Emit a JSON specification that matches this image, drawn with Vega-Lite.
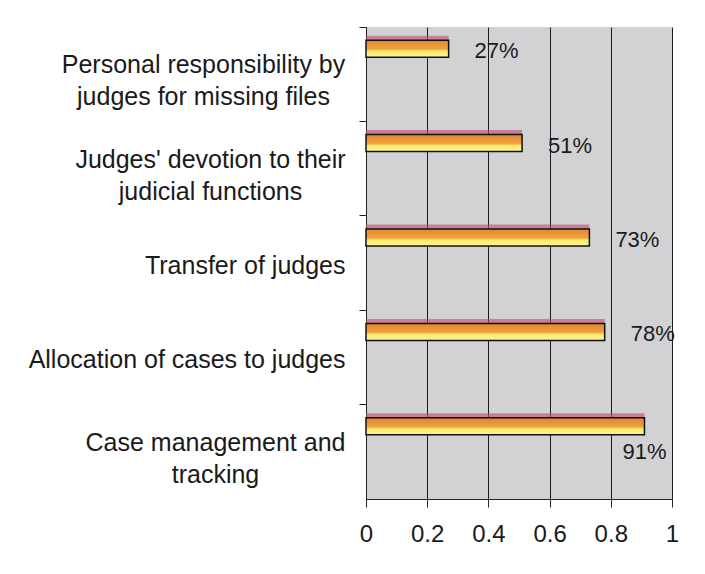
{
  "$schema": "https://vega.github.io/schema/vega-lite/v6.json",
  "width": 306,
  "height": 472,
  "autosize": "none",
  "padding": {"left": 366, "top": 27, "right": 33, "bottom": 75},
  "background": "white",
  "config": {
    "view": {"fill": "#D2D2D4", "stroke": null},
    "font": "Liberation Sans"
  },
  "data": {
    "values": [
      {"item": "Personal responsibility by\njudges for missing files", "value": 0.27},
      {"item": "Judges' devotion to their\njudicial functions", "value": 0.51},
      {"item": "Transfer of judges", "value": 0.73},
      {"item": "Allocation of cases to judges", "value": 0.78},
      {"item": "Case management and\ntracking", "value": 0.91}
    ]
  },
  "encoding": {
    "y": {
      "field": "item",
      "type": "nominal",
      "sort": null,
      "scale": {"paddingInner": 0, "paddingOuter": 0},
      "axis": {
        "title": null,
        "labelExpr": "split(datum.value, '\\n')",
        "labelFontSize": 25,
        "labelLineHeight": 32,
        "labelColor": "#1a1a1a",
        "labelAlign": {"expr": "indexof(datum.value, '\\n') >= 0 ? 'center' : 'right'"},
        "labelPadding": {"expr": "indexof(datum.value, 'Personal') == 0 ? 156 : indexof(datum.value, 'Judges') == 0 ? 149 : indexof(datum.value, 'Case') == 0 ? 144 : 14"},
        "labelOffset": {"expr": "indexof(datum.value, '\\n') >= 0 ? -9 : 3"},
        "labelLimit": 0,
        "bandPosition": 0,
        "tickSize": 7,
        "tickColor": "#222",
        "domainColor": "#222",
        "grid": false
      }
    },
    "x": {
      "field": "value",
      "type": "quantitative",
      "scale": {"domain": [0, 1], "nice": false},
      "axis": {
        "title": null,
        "values": [0, 0.2, 0.4, 0.6, 0.8, 1],
        "format": "~g",
        "grid": true,
        "gridColor": "#1a1a1a",
        "gridOpacity": 1,
        "gridWidth": 1,
        "tickSize": 8,
        "tickColor": "#222",
        "domainColor": "#222",
        "labelFontSize": 24,
        "labelColor": "#1a1a1a",
        "labelPadding": 15,
        "labelFlush": false
      }
    }
  },
  "layer": [
    {
      "mark": {"type": "bar", "height": 5, "yOffset": -36, "color": "#C04A6A", "opacity": 0.6}
    },
    {
      "mark": {
        "type": "bar",
        "height": 17,
        "yOffset": -25.5,
        "stroke": "#111",
        "strokeWidth": 1.5,
        "fill": {
          "gradient": "linear",
          "x1": 0, "y1": 0, "x2": 0, "y2": 1,
          "stops": [
            {"offset": 0, "color": "#E2872E"},
            {"offset": 0.5, "color": "#EDA040"},
            {"offset": 0.58, "color": "#F3C352"},
            {"offset": 0.66, "color": "#FBEA6E"},
            {"offset": 1, "color": "#FFF590"}
          ]
        }
      }
    },
    {
      "transform": [{"filter": "datum.value < 0.85"}],
      "mark": {"type": "text", "align": "left", "baseline": "middle", "dx": 26, "yOffset": -23, "fontSize": 22, "color": "#1a1a1a"},
      "encoding": {"text": {"field": "value", "format": ".0%"}}
    },
    {
      "transform": [{"filter": "datum.value >= 0.85"}],
      "mark": {"type": "text", "align": "center", "baseline": "middle", "yOffset": 0, "fontSize": 22, "color": "#1a1a1a"},
      "encoding": {"text": {"field": "value", "format": ".0%"}}
    }
  ]
}
